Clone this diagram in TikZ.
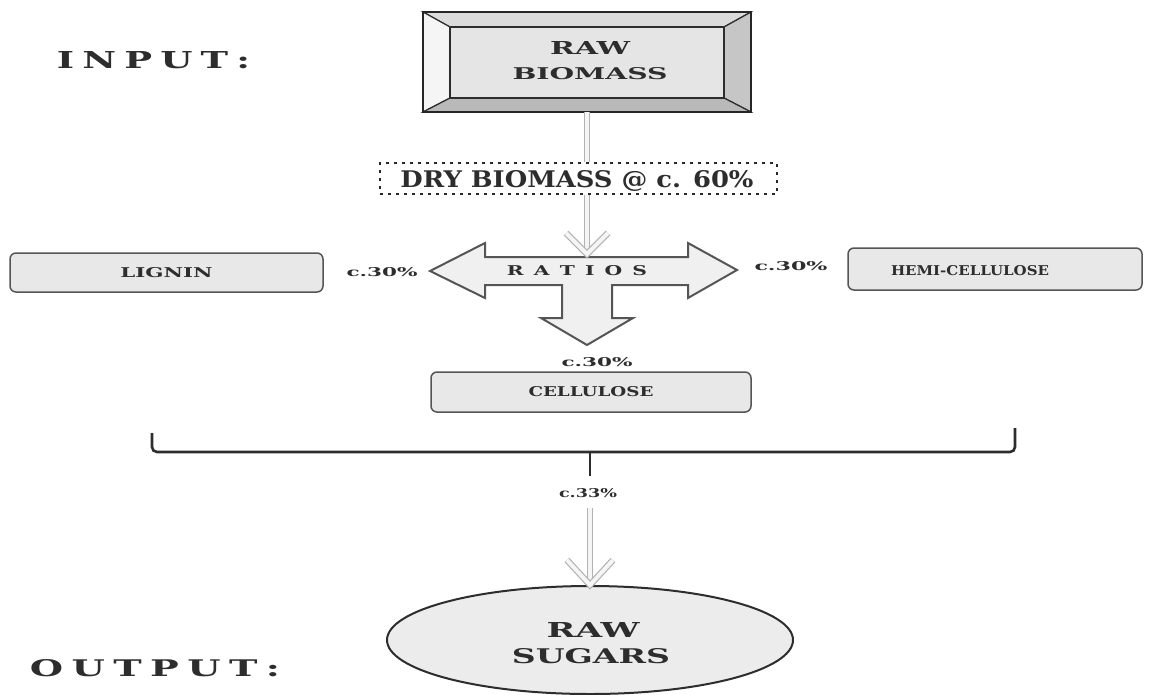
\documentclass[tikz,border=0pt]{standalone}
\usepackage{fontspec}
\setmainfont{DejaVu Serif}
\usetikzlibrary{calc,shapes.geometric}
\definecolor{ink}{RGB}{45,45,45}
\definecolor{boxfill}{RGB}{232,232,232}
\definecolor{edge}{RGB}{85,85,85}
\newcommand{\fitt}[3]{\resizebox{#1pt}{#2pt}{\bfseries #3}}
\begin{document}
\begin{tikzpicture}[x=1pt,y=-1pt,
  lbl/.style={inner sep=0pt,outer sep=0pt,text=ink},
  rbox/.style={draw=edge,line width=1.5pt,fill=boxfill,rounded corners=6pt,inner sep=0pt,text=ink},
  pipe/.style={draw=gray!60,double=gray!8,double distance=4pt,line width=1.2pt,line join=miter},
  crossarrow/.style={draw=edge,fill=gray!12,line width=2pt,line join=miter},
  bracketline/.style={draw=ink,line width=2.6pt,rounded corners=5pt},
  dashbox/.style={draw=gray!30!black,line width=2.2pt,dash pattern=on 3pt off 5pt,inner sep=0pt,text=ink},
  bevel/.style={draw=gray!35!black,line width=1.2pt,line join=miter}]
\useasboundingbox (0,0) rectangle (1150,694);

% INPUT / OUTPUT labels
\node[lbl] (inp) at (153.5,60) {\fitt{193}{17}{I\kern.22em N\kern.22em P\kern.22em U\kern.22em T\kern.22em :}};
\node[lbl] (outp) at (155,668) {\fitt{250}{17}{O\kern.22em U\kern.22em T\kern.22em P\kern.22em U\kern.22em T\kern.22em :}};

% bevelled RAW BIOMASS box
\fill[gray!20] (450,27) rectangle (724,98);
\filldraw[bevel,fill=gray!28] (423,12) -- (751,12) -- (724,27) -- (450,27) -- cycle;
\filldraw[bevel,fill=gray!8] (423,12) -- (450,27) -- (450,98) -- (423,112) -- cycle;
\filldraw[bevel,fill=gray!45] (751,12) -- (724,27) -- (724,98) -- (751,112) -- cycle;
\filldraw[bevel,fill=gray!55] (423,112) -- (450,98) -- (724,98) -- (751,112) -- cycle;
\draw[bevel] (450,27) rectangle (724,98);
\draw[draw=gray!30!black,line width=2pt] (423,12) rectangle (751,112);
\node[minimum width=328pt,minimum height=100pt,inner sep=0pt] (raw) at (587,62) {};
\node[lbl] (rawa) at (590,48) {\fitt{80}{13}{RAW}};
\node[lbl] (rawb) at (590,74) {\fitt{155}{12}{BIOMASS}};

% dashed DRY BIOMASS box
\node[dashbox,minimum width=397pt,minimum height=31pt] (dry) at (578.5,178.5) {};
\node[lbl] (dryt) at (577,181) {\fitt{353}{17}{DRY BIOMASS @ c. 60\%}};

% cross arrow
\draw[crossarrow] (430,271) -- (485,243) -- (485,257) -- (688,257) -- (688,243) -- (737,270)
  -- (688,298) -- (688,285) -- (612,285) -- (612,318) -- (633,318) -- (587,345)
  -- (541,318) -- (562,318) -- (562,285) -- (485,285) -- (485,298) -- cycle;
\node[lbl] (ratios) at (577,271) {\fitt{140}{10}{R\kern.5em A\kern.5em T\kern.5em I\kern.5em O\kern.5em S}};
\coordinate (xtop) at (587,254);

% pipes from raw biomass
\draw[pipe] (raw.south) -- (raw.south |- dry.north);
\draw[pipe] (raw.south |- dry.south) -- (xtop);
\draw[pipe] ($(xtop)+(-21,-21)$) -- (xtop) -- ($(xtop)+(21,-21)$);

% percentages
\node[lbl] (pl) at (382,272) {\fitt{71}{9}{c.30\%}};
\node[lbl] (pr) at (791,266) {\fitt{73}{9}{c.30\%}};
\node[lbl] (pb) at (597,362) {\fitt{71}{9}{c.30\%}};

% component boxes
\node[rbox,minimum width=313pt,minimum height=39pt] (lig) at (166.5,272.5) {\fitt{92}{10}{LIGNIN}};
\node[rbox,minimum width=294pt,minimum height=42pt] (hemi) at (995,269) {};
\node[lbl] (hemit) at (970,271) {\fitt{158}{10}{HEMI-CELLULOSE}};
\node[rbox,minimum width=320pt,minimum height=40pt] (cell) at (591,392) {\fitt{125}{10}{CELLULOSE}};

% bracket
\draw[bracketline] (152,433) -- (152,452) -- (1015,452) -- (1015,428);
\coordinate (stemtop) at (590,452);
\coordinate (stem) at (590,476);
\draw[draw=ink,line width=2.6pt] (stemtop) -- (stem);

\node[lbl] (c33) at (588,493) {\fitt{58}{9}{c.33\%}};
\coordinate (a2) at (590,508);

% output ellipse
\node[ellipse,draw=gray!35!black,line width=2pt,fill=gray!15,minimum width=406pt,minimum height=108pt,inner sep=0pt] (sug) at (590,640) {};
\node[lbl] (suga) at (593,630) {\fitt{93}{15}{RAW}};
\node[lbl] (sugb) at (591,656) {\fitt{158}{15}{SUGARS}};

\draw[pipe] (a2) -- (sug.north);
\draw[pipe] ($(sug.north)+(-23,-25)$) -- (sug.north) -- ($(sug.north)+(23,-25)$);
\end{tikzpicture}
\end{document}
